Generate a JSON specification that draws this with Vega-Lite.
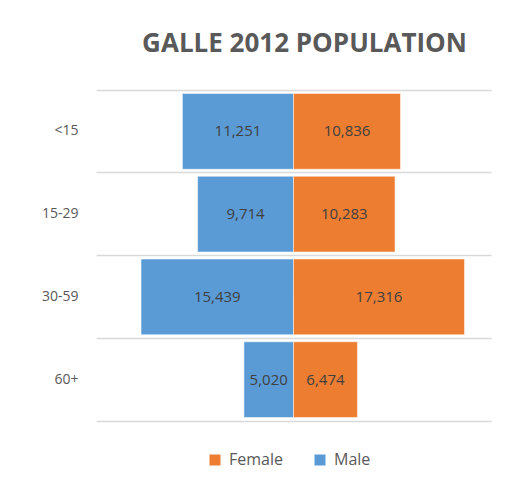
{
  "$schema": "https://vega.github.io/schema/vega-lite/v6.json",
  "width": 395,
  "height": 331,
  "autosize": "none",
  "padding": {"left": 96, "top": 90, "right": 29, "bottom": 67},
  "background": "white",
  "config": {
    "font": "Open Sans",
    "view": {"stroke": null}
  },
  "title": {
    "text": "GALLE 2012 POPULATION",
    "fontSize": 26,
    "fontWeight": "bold",
    "color": "#595959",
    "font": "Open Sans",
    "anchor": "middle",
    "dx": 11,
    "offset": 33
  },
  "data": {
    "values": [
      {"age": "<15", "sex": "Male", "value": 11251},
      {"age": "<15", "sex": "Female", "value": 10836},
      {"age": "15-29", "sex": "Male", "value": 9714},
      {"age": "15-29", "sex": "Female", "value": 10283},
      {"age": "30-59", "sex": "Male", "value": 15439},
      {"age": "30-59", "sex": "Female", "value": 17316},
      {"age": "60+", "sex": "Male", "value": 5020},
      {"age": "60+", "sex": "Female", "value": 6474}
    ]
  },
  "transform": [
    {"calculate": "datum.sex === 'Male' ? -datum.value : datum.value", "as": "signed"},
    {"calculate": "datum.signed / 2", "as": "mid"}
  ],
  "encoding": {
    "y": {
      "field": "age",
      "type": "nominal",
      "sort": ["<15", "15-29", "30-59", "60+"],
      "scale": {"paddingInner": 0, "paddingOuter": 0},
      "axis": {
        "title": null,
        "domain": false,
        "ticks": false,
        "labelPadding": 18,
        "labelFontSize": 14,
        "labelColor": "#595959",
        "grid": true,
        "bandPosition": 0,
        "gridColor": "#d9d9d9",
        "gridWidth": 1.5
      }
    }
  },
  "layer": [
    {
      "mark": {"type": "bar", "stroke": "white", "strokeWidth": 0.5, "height": {"band": 0.915}},
      "encoding": {
        "x": {
          "field": "signed",
          "type": "quantitative",
          "scale": {"domain": [-20000, 20000]},
          "axis": {
            "title": null,
            "labels": false,
            "ticks": false,
            "grid": false,
            "domainColor": "#d9d9d9",
            "domainWidth": 1.5
          }
        },
        "x2": {"datum": 0},
        "color": {
          "field": "sex",
          "type": "nominal",
          "scale": {"domain": ["Female", "Male"], "range": ["#ED7D31", "#5B9BD5"]},
          "legend": {
            "title": null,
            "orient": "none",
            "legendX": 111,
            "legendY": 362,
            "padding": 0,
            "direction": "horizontal",
            "symbolType": "square",
            "symbolSize": 121,
            "symbolStrokeWidth": 0,
            "labelFontSize": 16,
            "labelOffset": 6,
            "labelColor": "#595959",
            "columnPadding": 29
          }
        }
      }
    },
    {
      "mark": {"type": "rule", "color": "#d9d9d9", "strokeWidth": 1.5},
      "encoding": {
        "x": {"datum": 0, "type": "quantitative"}
      }
    },
    {
      "mark": {"type": "text", "fontSize": 15, "color": "#404040"},
      "encoding": {
        "x": {"field": "mid", "type": "quantitative"},
        "text": {"field": "value", "type": "quantitative", "format": ","}
      }
    }
  ]
}
